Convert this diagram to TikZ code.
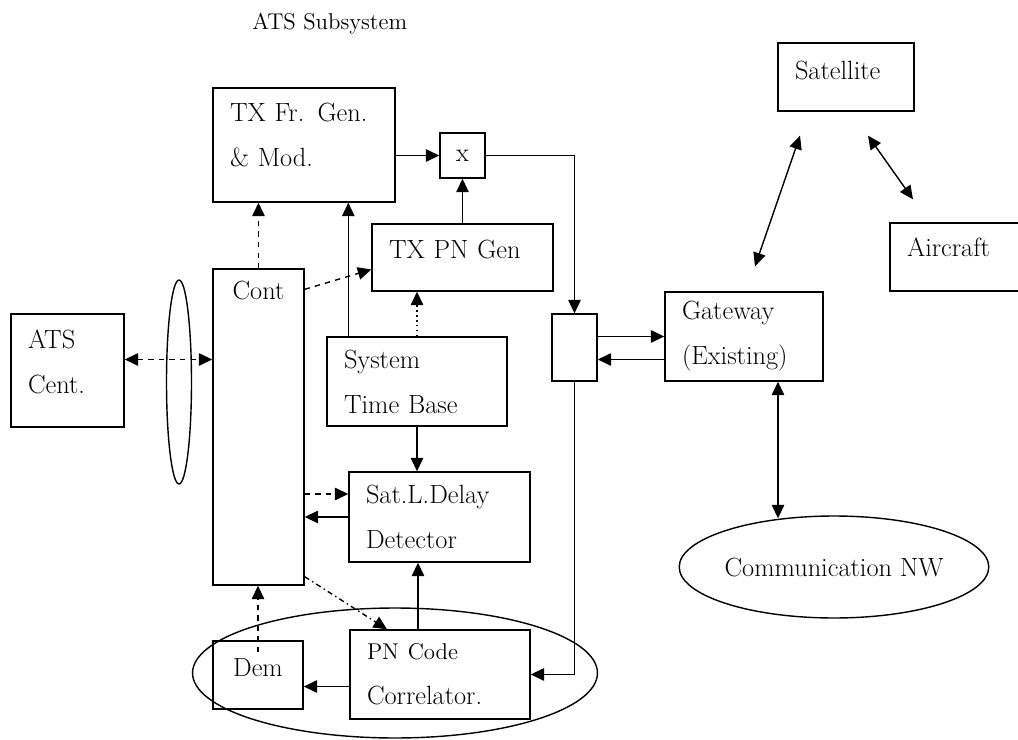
\documentclass[tikz,border=0pt]{standalone}
\usepackage{tikz}
\usetikzlibrary{shapes.geometric, arrows.meta, calc}

\newcommand{\blkfont}{\fontsize{15}{25.6}\selectfont}
\newcommand{\smlfont}{\fontsize{13}{25.6}\selectfont}
\newcommand{\lift}[1]{\rule[-#1]{0pt}{0pt}}

\begin{document}
\begin{tikzpicture}[
    x=0.02cm, y=-0.02cm,
    box/.style={draw, line width=0.8pt, align=left, inner xsep=0.34cm, inner ysep=0pt, font=\blkfont},
    oval/.style={draw, ellipse, line width=0.8pt, inner sep=0pt, font=\blkfont},
    arr/.style={-{Triangle[length=0.27cm, width=0.25cm]}, line width=0.8pt},
    arrs/.style={{Triangle[length=0.27cm, width=0.25cm]}-{Triangle[length=0.27cm, width=0.25cm]}, line width=0.8pt},
]
\useasboundingbox (0,0) rectangle (1018,740);

\node[anchor=west, inner sep=0pt, font=\fontsize{13}{16}\selectfont] (title) at (252,24) {ATS Subsystem};

% ATS subsystem blocks
\node[box, text width=2.96cm, minimum height=2.28cm] (txfr) at (304,145) {TX Fr. Gen.\\\& Mod.\lift{0.4cm}};
\node[box, align=center, inner sep=0pt, minimum size=0.9cm] (mult) at (462.5,155.5) {x};
\node[box, text width=2.94cm, minimum height=1.34cm] (txpn) at (462.5,257.5) {TX PN Gen\lift{0.32cm}};
\node[box, minimum width=1.82cm, minimum height=6.32cm,
      label={[anchor=north, inner sep=0.24cm, font=\blkfont]north:Cont}] (cont) at (258.5,427) {};
\node[box, text width=1.58cm, minimum height=2.26cm] (atscent) at (67.5,370.5) {ATS\\Cent.\lift{0.36cm}};
\node[box, text width=2.92cm, minimum height=1.78cm] (stb) at (417,381.5) {System\\Time Base};
\node[box, text width=2.94cm, minimum height=1.8cm] (sat) at (439.5,517) {Sat.L.Delay\\Detector};
\node[box, text width=2.92cm, minimum height=1.78cm] (corr) at (440,674.5) {{\smlfont PN Code}\\Correlator.};
\node[box, align=center, inner xsep=0pt, minimum width=1.8cm, minimum height=1.36cm] (dem) at (258,675) {Dem\lift{0.32cm}};
\node[box, inner sep=0pt, minimum width=0.9cm, minimum height=1.34cm] (mux) at (574.5,347.5) {};

% groupings
\node[oval, minimum width=0.5cm, minimum height=4.08cm] (grp) at (179,382) {};
\node[oval, minimum width=8.1cm, minimum height=2.6cm] (rxgrp) at (395,673) {};

% outside
\node[box, text width=2.48cm, minimum height=1.78cm] (gw) at (744,336.5) {Gateway\\(Existing)};
\node[box, text width=2.04cm, minimum height=1.36cm] (satl) at (846,77) {Satellite\lift{0.28cm}};
\node[box, text width=2.12cm, minimum height=1.36cm] (air) at (960,257) {Aircraft\lift{0.4cm}};
\node[oval, minimum width=5.88cm, minimum height=2.04cm] (commnw) at (834,567) {Communication NW};

% helper points
\coordinate (stbup) at ($(stb.north west)+(22,0)$);
\coordinate (atsio) at ($(atscent.east)+(0,-11)$);
\coordinate (satin) at ($(sat.west)+(0,-23)$);
\coordinate (corrup) at ($(corr.north)+(-22,0)$);
\coordinate (corrout) at ($(corr.west)+(0,12)$);
\coordinate (muxout) at ($(mux.east)+(0,-11)$);
\coordinate (gwout) at ($(gw.west)+(0,23)$);

% TX side
\draw[arr] (txfr.east |- mult.west) -- (mult.west);
\draw[arr] (mult.east) -| (mux.north);
\draw[arr] (txpn.north) -- (mult.south);
\draw[arr, dashed] (cont.north) -- (cont.north |- txfr.south);
\draw[arr] (stbup) -- (stbup |- txfr.south);
\draw[arr, dotted] (stb.north) -- (stb.north |- txpn.south);
\draw[arr, dashed] ($(cont.north east)+(0,21)$) -- ($(txpn.west)+(0,12)$);
\draw[arrs, dashed] (atsio) -- (atsio -| cont.west);

% RX side
\draw[arr] (stb.south) -- (stb.south |- sat.north);
\draw[arr, dashed] (satin -| cont.east) -- (satin);
\draw[arr] (sat.west) -- (sat.west -| cont.east);
\draw[arr] (corrup) -- (corrup |- sat.south);
\draw[arr] (corrout) -- (corrout -| dem.east);
\draw[arr, dashed] ($(dem.north)+(0,12)$) -- (dem.north |- cont.south);
\draw[arr, dash dot] ($(cont.south east)+(0,-9)$) -- ($(corr.north)+(-53,0)$);
\draw[arr] (mux.south) |- (corr.east);

% gateway links
\draw[arr] (muxout) -- (muxout -| gw.west);
\draw[arr] (gwout) -- (gwout -| mux.east);
\draw[arrs] ($(gw.south)+(34,0)$) -- ($(commnw.north)+(-56,3)$);
\draw[arrs] ($(satl.south)+(-46,24)$) -- ($(gw.north)+(11,-25)$);
\draw[arrs] ($(satl.south)+(22,24)$) -- ($(air.north)+(-47,-23)$);

\end{tikzpicture}
\end{document}
